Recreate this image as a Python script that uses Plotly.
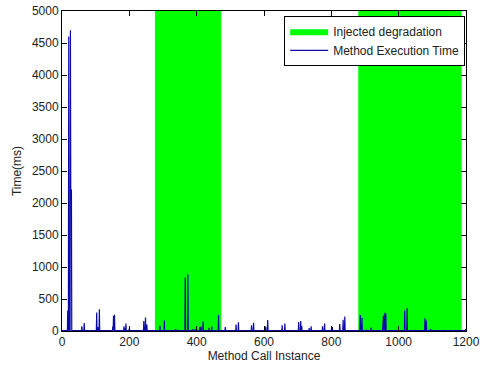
import plotly.graph_objects as go

# Injected degradation windows (method call instance)
degr_start = [276, 880]
degr_end = [473, 1187]

# Method execution time polyline (call instance, ms)
call_instance = [
    0, 16, 17, 18, 19, 20, 21, 24, 25, 26, 28, 29,
    58, 59, 60, 65, 66, 67,
    102, 103, 104, 105, 106, 107, 110, 111, 112,
    150, 151, 152, 153, 154, 155, 156, 157,
    183, 184, 185, 186, 187, 188, 189, 190, 191, 199, 200, 201,
    242, 243, 244, 247, 248, 249, 251, 252, 253,
    290, 291, 292, 303, 304, 305,
    336, 337, 338, 342, 343, 344,
    365, 366, 367, 373, 374, 375,
    388, 389, 390, 395, 396, 397,
    408, 409, 410, 412, 413, 414, 418, 419, 420,
    436, 437, 438, 444, 445, 446,
    464, 465, 466, 484, 485, 486,
    516, 517, 518, 523, 524, 525,
    562, 563, 564, 568, 569, 570,
    604, 605, 606, 610, 611, 612,
    653, 654, 655, 661, 662, 663,
    702, 703, 704, 708, 709, 710, 711, 712, 713,
    733, 734, 735, 739, 740, 741,
    773, 774, 775, 779, 780, 781,
    802, 803, 804,
    824, 825, 826, 834, 835, 836, 839, 840, 841,
    885, 886, 887, 890, 891, 892,
    904, 905, 906, 917, 918, 919,
    952, 953, 954, 955, 956, 958, 959, 960, 961, 962, 963,
    974, 975, 976,
    1017, 1018, 1019, 1024, 1025, 1026,
    1049, 1050, 1051,
    1077, 1078, 1079, 1081, 1082, 1083,
    1094, 1095, 1096,
    1134, 1135, 1136, 1154, 1155, 1156, 1174, 1175, 1176,
    1198, 1199, 1200,
]
exec_time = [
    5, 5, 320, 5, 5, 4600, 5, 5, 4700, 2200, 2200, 5,
    5, 75, 5, 5, 125, 5,
    5, 290, 5, 5, 60, 5, 5, 340, 5,
    5, 75, 5, 240, 5, 5, 255, 5,
    5, 75, 5, 5, 40, 5, 5, 115, 5, 5, 40, 5,
    5, 155, 5, 5, 210, 5, 5, 100, 5,
    5, 80, 5, 5, 165, 5,
    5, 30, 5, 5, 20, 5,
    5, 835, 5, 5, 885, 5,
    5, 30, 5, 5, 25, 5,
    5, 60, 5, 5, 70, 5, 5, 150, 5,
    5, 50, 5, 5, 70, 5,
    5, 250, 5, 5, 60, 5,
    5, 100, 5, 5, 135, 5,
    5, 90, 5, 5, 130, 5,
    5, 70, 5, 5, 170, 5,
    5, 90, 5, 5, 115, 5,
    5, 140, 5, 5, 155, 5, 5, 80, 5,
    5, 45, 5, 5, 75, 5,
    5, 75, 5, 5, 115, 5,
    5, 60, 5,
    5, 110, 5, 5, 175, 5, 5, 225, 5,
    5, 250, 5, 5, 205, 5,
    5, 20, 5, 5, 55, 5,
    5, 150, 5, 240, 5, 5, 285, 5, 5, 270, 5,
    5, 10, 5,
    5, 320, 5, 5, 360, 5,
    5, 15, 5,
    5, 200, 5, 5, 165, 5,
    5, 30, 5,
    5, 15, 5, 5, 15, 5, 5, 10, 5,
    5, 30, 5,
]

x_ticks = [0, 200, 400, 600, 800, 1000, 1200]
y_ticks = [0, 500, 1000, 1500, 2000, 2500, 3000, 3500, 4000, 4500, 5000]
y_max = 5000

# Build green polygons from the degradation windows
gx, gy = [], []
for s, e in zip(degr_start, degr_end):
    gx += [s, e, e, s, s, None]
    gy += [0, 0, y_max, y_max, 0, None]

fig = go.Figure()
fig.add_trace(go.Scatter(
    x=gx, y=gy, mode="lines", fill="toself",
    fillcolor="#00ff00", line=dict(color="#00ff00", width=0),
    name="Injected degradation", hoverinfo="skip",
))
fig.add_trace(go.Scatter(
    x=call_instance, y=exec_time, mode="lines",
    line=dict(color="#0a0aa8", width=1.2),
    name="Method Execution Time",
))

font = dict(family="Liberation Sans, Arial, sans-serif", size=12, color="#222222")
axis_common = dict(
    showgrid=False, zeroline=False, showline=True, linecolor="black", linewidth=1,
    mirror="ticks", ticks="inside", ticklen=5, tickcolor="black",
    tickfont=font, automargin=False, ticklabeloverflow="allow",
)
fig.update_layout(
    width=480, height=372,
    margin=dict(l=62, r=14, t=11, b=41),
    paper_bgcolor="white", plot_bgcolor="white",
    font=font,
    showlegend=True,
    legend=dict(
        x=0.998, y=0.985, xanchor="right", yanchor="top",
        bgcolor="white", bordercolor="black", borderwidth=1,
        font=dict(family="Liberation Sans, Arial, sans-serif", size=12, color="#222222"),
        tracegroupgap=0, itemwidth=38,
    ),
    xaxis=dict(range=[0, 1200], tickvals=x_ticks,
               title=dict(text="Method Call Instance", font=font, standoff=1),
               **axis_common),
    yaxis=dict(range=[0, y_max], tickvals=y_ticks,
               title=dict(text="Time(ms)", font=font, standoff=7),
               **axis_common),
)

fig.write_html("out.html", config={"displayModeBar": False},
               post_script="document.body.style.margin='0';")
